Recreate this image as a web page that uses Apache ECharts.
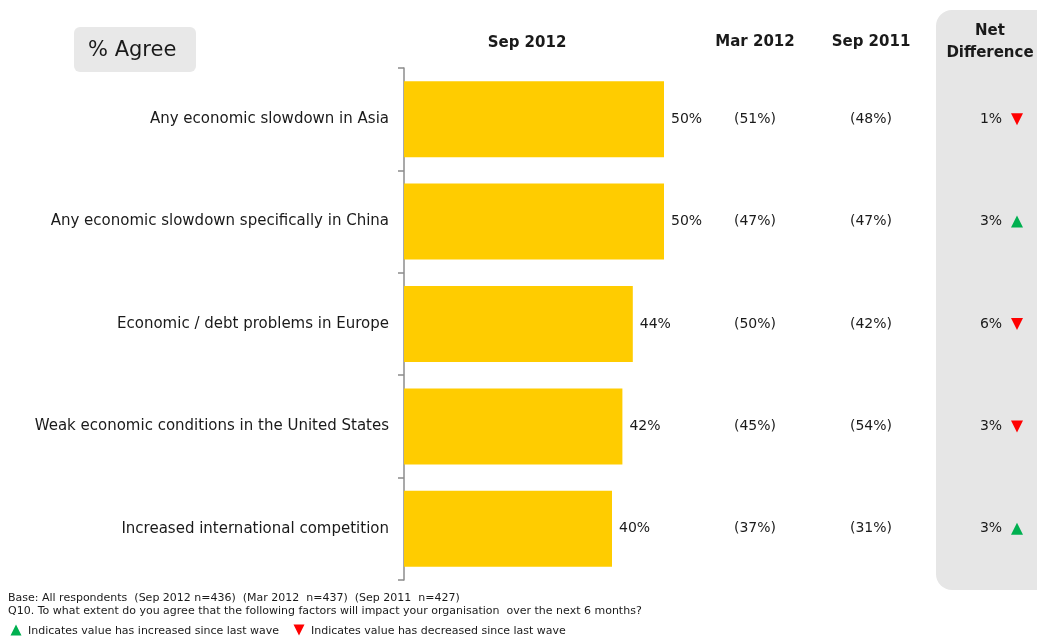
<!DOCTYPE html>
<html>
<head>
<meta charset="utf-8">
<script src="https://cdn.jsdelivr.net/npm/echarts@6/dist/echarts.min.js"></script>
<style>
  html, body { margin: 0; padding: 0; background: #ffffff; }
  #chart { width: 1037px; height: 636px; }
</style>
</head>
<body>
<div id="chart"></div>
<script>
// Survey factors and the share agreeing, per wave
const categories = [
  'Any economic slowdown in Asia',
  'Any economic slowdown specifically in China',
  'Economic / debt problems in Europe',
  'Weak economic conditions in the United States',
  'Increased international competition'
];
const sep2012 = [50, 50, 44, 42, 40];
const mar2012 = [51, 47, 50, 45, 37];
const sep2011 = [48, 47, 42, 54, 31];
const netDifference = [1, 3, 6, 3, 3];
const netDirection = ['down', 'up', 'down', 'down', 'up'];
const columnTitles = ['Sep 2012', 'Mar 2012', 'Sep 2011', 'Net\nDifference'];
const footnotes = [
  'Base: All respondents  (Sep 2012 n=436)  (Mar 2012  n=437)  (Sep 2011  n=427)',
  'Q10. To what extent do you agree that the following factors will impact your organisation  over the next 6 months?'
];
const legendTexts = ['Indicates value has increased since last wave', 'Indicates value has decreased since last wave'];

const FONT = '"DejaVu Sans", Verdana, sans-serif';
const UP = '#00b050';
const DOWN = '#ff0000';
const COL_X = { mar: 755, sep11: 871, net: 991, arrow: 1017 };

function triangle(cx, cy, dir, size) {
  const h = size / 2;
  return dir === 'up'
    ? [[cx - h, cy + h], [cx + h, cy + h], [cx, cy - h]]
    : [[cx - h, cy - h], [cx + h, cy - h], [cx, cy + h]];
}

const chart = echarts.init(document.getElementById('chart'));

chart.setOption({
  animation: false,
  backgroundColor: '#ffffff',
  grid: { left: 404, top: 68, width: 520, height: 512, containLabel: false },
  xAxis: {
    type: 'value', min: 0, max: 100, show: false
  },
  yAxis: {
    type: 'category',
    data: categories,
    inverse: true,
    axisLine: { show: true, lineStyle: { color: '#8c8c8c', width: 1.5 } },
    axisTick: { show: true, length: 6, lineStyle: { color: '#8c8c8c', width: 1.5 } },
    axisLabel: { color: '#1a1a1a', fontFamily: FONT, fontSize: 15, margin: 15 }
  },
  graphic: [
    // "% Agree" badge
    { type: 'rect', shape: { x: 74, y: 27, width: 122, height: 45, r: 6 }, style: { fill: '#e8e8e8' }, z: 0 },
    { type: 'text', x: 88, y: 51, style: { text: '% Agree', font: '21px ' + FONT, fill: '#1a1a1a', verticalAlign: 'middle' } },
    // Net difference panel
    { type: 'rect', shape: { x: 936, y: 10, width: 120, height: 580, r: 16 }, style: { fill: '#e6e6e6' }, z: 0 },
    // Column headings
    { type: 'text', x: 527, y: 43, style: { text: columnTitles[0], font: 'bold 15px ' + FONT, fill: '#1a1a1a', align: 'center', verticalAlign: 'middle' } },
    { type: 'text', x: COL_X.mar, y: 42, style: { text: columnTitles[1], font: 'bold 15px ' + FONT, fill: '#1a1a1a', align: 'center', verticalAlign: 'middle' } },
    { type: 'text', x: COL_X.sep11, y: 42, style: { text: columnTitles[2], font: 'bold 15px ' + FONT, fill: '#1a1a1a', align: 'center', verticalAlign: 'middle' } },
    { type: 'text', x: 990, y: 42, style: { text: columnTitles[3], font: 'bold 15px ' + FONT, fill: '#1a1a1a', align: 'center', verticalAlign: 'middle', lineHeight: 22 } },
    // Footnotes
    { type: 'text', x: 8, y: 598, style: { text: footnotes[0], font: '11px ' + FONT, fill: '#1a1a1a', verticalAlign: 'middle' } },
    { type: 'text', x: 8, y: 611, style: { text: footnotes[1], font: '11px ' + FONT, fill: '#1a1a1a', verticalAlign: 'middle' } },
    { type: 'polygon', shape: { points: triangle(16, 630, 'up', 11) }, style: { fill: UP } },
    { type: 'text', x: 28, y: 631, style: { text: legendTexts[0], font: '11px ' + FONT, fill: '#1a1a1a', verticalAlign: 'middle' } },
    { type: 'polygon', shape: { points: triangle(299, 630, 'down', 11) }, style: { fill: DOWN } },
    { type: 'text', x: 311, y: 631, style: { text: legendTexts[1], font: '11px ' + FONT, fill: '#1a1a1a', verticalAlign: 'middle' } }
  ],
  series: [
    {
      name: 'Sep 2012',
      type: 'bar',
      data: sep2012,
      barWidth: 76,
      itemStyle: { color: '#ffcc00' },
      label: {
        show: true,
        position: 'right',
        distance: 7,
        formatter: p => p.value + '%',
        color: '#1a1a1a',
        fontFamily: FONT,
        fontSize: 14
      },
      z: 2
    },
    {
      // Comparison columns: earlier waves and the net change
      name: 'Comparison',
      type: 'custom',
      data: categories.map((c, i) => [0, i]),
      encode: { x: 0, y: 1 },
      renderItem: function (params, api) {
        const i = api.value(1);
        const y = api.coord([0, i])[1];
        const dir = netDirection[i];
        const txt = (x, s) => ({
          type: 'text', x: x, y: y,
          style: { text: s, font: '14px ' + FONT, fill: '#1a1a1a', align: 'center', verticalAlign: 'middle' }
        });
        return {
          type: 'group',
          children: [
            txt(COL_X.mar, '(' + mar2012[i] + '%)'),
            txt(COL_X.sep11, '(' + sep2011[i] + '%)'),
            txt(COL_X.net, netDifference[i] + '%'),
            {
              type: 'polygon',
              shape: { points: triangle(COL_X.arrow, y, dir, 12) },
              style: { fill: dir === 'up' ? UP : DOWN }
            }
          ]
        };
      },
      z: 3
    }
  ]
});
</script>
</body>
</html>
